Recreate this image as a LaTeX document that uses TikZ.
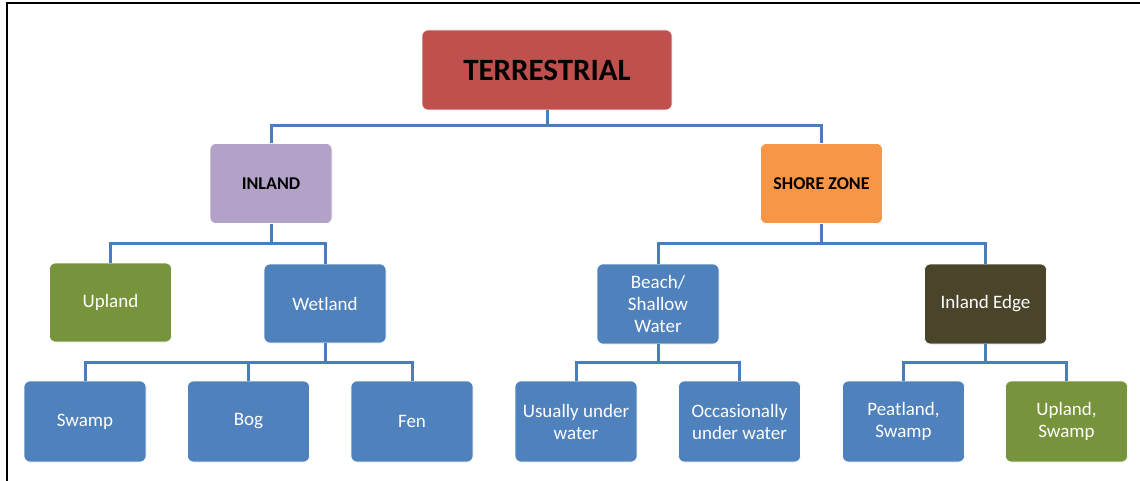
\documentclass[tikz,border=0pt]{standalone}
\usepackage{fontspec}
\setmainfont{Carlito}
\definecolor{cred}{HTML}{C0504D}
\definecolor{cpurple}{HTML}{B3A2C7}
\definecolor{corange}{HTML}{F79646}
\definecolor{cgreen}{HTML}{77933C}
\definecolor{cblue}{HTML}{4F81BD}
\definecolor{cdark}{HTML}{4A452A}
\definecolor{cline}{HTML}{4A7EBB}
\begin{document}
\begin{tikzpicture}[x=1pt,y=-1pt,
  box/.style={draw=white,line width=0.6pt,rounded corners=6pt,minimum width=122pt,minimum height=80pt,align=center,inner sep=2pt},
  topbox/.style={box,font=\bfseries\fontsize{18}{21}\selectfont,text=black},
  leaf/.style={box,text=white,font=\fontsize{19}{22}\selectfont},
  conn/.style={draw=cline,line width=3pt}]
\useasboundingbox (0,0) rectangle (1140,481);
\fill[white] (0,0) rectangle (1140,481);
\draw[line width=2pt] (7,481) -- (7,3) -- (1140,3);

\node[topbox,fill=cred,minimum width=250pt,font=\bfseries\fontsize{31}{34}\selectfont] (T) at (547,70) {TERRESTRIAL};
\node[topbox,fill=cpurple] (IN) at (271,183.5) {INLAND};
\node[topbox,fill=corange] (SZ) at (821.5,183.5) {SHORE ZONE};
\node[leaf,fill=cgreen,minimum height=79pt] (UP) at (110.5,302.5) {Upland};
\node[leaf,fill=cblue,minimum height=79pt] (WE) at (325,303.5) {Wetland};
\node[leaf,fill=cblue] (BE) at (658,304) {Beach/\\Shallow\\Water};
\node[leaf,fill=cdark] (IE) at (985.5,304) {Inland Edge};
\node[leaf,fill=cblue,minimum height=81pt] (SW) at (85,421.5) {Swamp};
\node[leaf,fill=cblue,minimum height=81pt] (BO) at (248.5,421.5) {Bog};
\node[leaf,fill=cblue,minimum height=81pt] (FE) at (412,421.5) {Fen};
\node[leaf,fill=cblue,minimum height=81pt] (UU) at (576,421.5) {Usually under\\water};
\node[leaf,fill=cblue,minimum height=81pt] (OU) at (739.5,421.5) {Occasionally\\under water};
\node[leaf,fill=cblue,minimum height=81pt] (PS) at (903.5,421.5) {Peatland,\\Swamp};
\node[leaf,fill=cgreen,minimum height=81pt] (US) at (1066.5,421.5) {Upland,\\Swamp};

\coordinate (h1) at (547,126);
\draw[conn] (T.south) -- (h1);
\draw[conn] (IN.north) -- (IN.north |- h1) -- (SZ.north |- h1) -- (SZ.north);

\coordinate (h2) at (271,243);
\draw[conn] (IN.south) -- (h2);
\draw[conn] (UP.north) -- (UP.north |- h2) -- (WE.north |- h2) -- (WE.north);

\coordinate (h3) at (821.5,243);
\draw[conn] (SZ.south) -- (h3);
\draw[conn] (BE.north) -- (BE.north |- h3) -- (IE.north |- h3) -- (IE.north);

\coordinate (h4) at (325,362);
\draw[conn] (WE.south) -- (h4);
\draw[conn] (SW.north) -- (SW.north |- h4) -- (FE.north |- h4) -- (FE.north);
\draw[conn] (BO.north) -- (BO.north |- h4);

\coordinate (h5) at (658,362);
\draw[conn] (BE.south) -- (h5);
\draw[conn] (UU.north) -- (UU.north |- h5) -- (OU.north |- h5) -- (OU.north);

\coordinate (h6) at (985.5,362);
\draw[conn] (IE.south) -- (h6);
\draw[conn] (PS.north) -- (PS.north |- h6) -- (US.north |- h6) -- (US.north);
\end{tikzpicture}
\end{document}
